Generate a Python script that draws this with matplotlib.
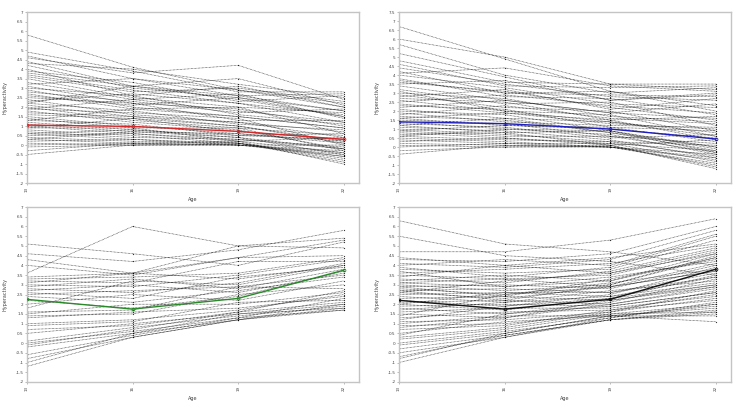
"""
Trayectorias individuales de hiperactividad por edad, con la media de cada grupo.
Cuatro paneles 2x2, lineas punteadas por sujeto y la media en color.
"""
import numpy as np
import matplotlib
matplotlib.use("Agg")
import matplotlib.pyplot as plt

ages = [13, 16, 19, 22]
age_labels = ["13", "16", "19", "22"]
ylabel = "Hyperactivity"

# --- panel 1 (arriba izq.) ---
subj_a = [
    [5.8, 4.1, 2.9, 2.2], [4.9, 3.9, 2.8, 2.8], [4.7, 3.5, 2.6, 2.7],
    [4.6, 3.8, 4.2, 2.4], [4.4, 3.1, 3.5, 2.1], [4.2, 3.0, 2.5, 1.8],
    [4.0, 2.6, 3.1, 2.0], [3.8, 3.1, 2.4, 1.5], [3.7, 2.9, 2.2, 1.2],
    [3.5, 2.5, 2.0, 1.7], [3.3, 2.4, 2.7, 1.4], [3.1, 2.2, 1.9, 1.0],
    [3.0, 2.6, 1.6, 1.1], [2.9, 2.0, 1.5, 0.9], [2.7, 1.9, 2.0, 0.6],
    [2.5, 2.2, 1.3, 1.3], [2.4, 1.6, 1.2, 0.4], [2.2, 1.8, 1.1, 0.8],
    [2.1, 1.5, 1.0, 0.2], [2.0, 1.3, 0.9, 0.5], [1.9, 1.7, 1.4, 0.0],
    [1.8, 1.2, 0.8, -0.2], [1.6, 1.4, 0.7, 0.3], [1.5, 1.0, 0.6, 0.1],
    [1.4, 0.9, 0.9, -0.3], [1.3, 1.1, 0.5, 0.6], [1.2, 0.8, 0.4, -0.5],
    [1.1, 0.7, 0.6, 0.2], [1.0, 0.6, 0.3, -0.1], [0.9, 0.9, 0.2, 0.4],
    [0.8, 0.5, 0.1, -0.6], [0.7, 0.4, 0.3, -0.2], [0.6, 0.3, 0.0, 0.0],
    [0.5, 0.6, 0.2, -0.4], [0.4, 0.2, 0.1, -0.7], [0.3, 0.1, 0.0, -0.3],
    [0.2, 0.3, 0.1, -0.8], [0.1, 0.0, 0.0, -0.5], [0.0, 0.1, 0.2, -1.0],
    [-0.1, 0.0, 0.0, -0.6], [-0.3, 0.1, 0.0, -0.4], [-0.5, 0.0, 0.1, -0.9],
    [3.6, 2.8, 3.0, 2.3], [2.8, 2.3, 1.7, 1.9], [1.7, 1.5, 1.2, 0.7],
    [3.9, 3.3, 2.3, 2.6], [2.3, 2.7, 2.2, 1.6], [0.6, 0.8, 0.5, 0.3],
    [3.2, 3.5, 2.9, 2.0], [2.6, 2.1, 2.5, 1.5], [1.9, 2.4, 1.8, 1.2],
    [1.3, 1.9, 1.5, 0.9], [0.9, 1.4, 1.0, 0.1], [0.3, 0.7, 0.4, -0.2],
    [4.3, 4.0, 3.2, 2.5], [2.2, 3.1, 2.6, 1.8],
]
mean_a = [1.05, 0.98, 0.72, 0.3]

# --- panel 2 (arriba der.) ---
subj_b = [
    [6.7, 4.9, 3.1, 2.3], [6.0, 5.0, 3.5, 3.5], [5.7, 4.0, 3.0, 3.3],
    [5.2, 3.9, 2.6, 2.9], [4.8, 3.6, 3.5, 3.2], [4.4, 3.5, 2.8, 2.6],
    [4.2, 3.0, 3.1, 2.0], [4.0, 3.3, 2.4, 2.2], [3.8, 2.8, 2.7, 1.8],
    [3.6, 3.1, 2.2, 1.5], [3.4, 2.6, 1.9, 2.4], [3.2, 2.4, 2.5, 1.2],
    [3.0, 2.7, 1.7, 1.4], [2.9, 2.2, 2.0, 0.9], [2.7, 2.5, 1.5, 1.7],
    [2.6, 2.0, 1.8, 0.6], [2.4, 1.9, 1.3, 1.0], [2.3, 2.1, 1.1, 0.3],
    [2.1, 1.6, 1.4, 0.8], [2.0, 1.8, 0.9, 0.0], [1.9, 1.4, 1.2, 1.1],
    [1.7, 1.5, 0.8, -0.2], [1.6, 1.2, 1.0, 0.5], [1.5, 1.3, 0.6, 0.2],
    [1.4, 1.0, 0.7, -0.4], [1.3, 1.1, 0.5, 0.7], [1.2, 0.8, 0.9, -0.1],
    [1.1, 0.9, 0.4, -0.6], [1.0, 0.7, 0.3, 0.1], [0.9, 0.6, 0.6, -0.3],
    [0.8, 0.5, 0.2, -0.8], [0.7, 0.8, 0.1, 0.4], [0.6, 0.4, 0.3, -0.5],
    [0.5, 0.3, 0.0, -0.9], [0.4, 0.2, 0.2, -0.2], [0.3, 0.5, 0.1, -1.1],
    [0.2, 0.1, 0.0, -0.7], [0.1, 0.0, 0.1, -1.2], [0.0, 0.2, 0.0, -0.4],
    [-0.2, 0.0, 0.0, -1.0], [-0.4, 0.1, 0.0, -0.6], [3.7, 3.0, 2.9, 2.8],
    [2.5, 2.9, 2.3, 1.9], [1.8, 2.3, 1.6, 1.3], [0.9, 1.2, 1.1, 0.9],
    [4.6, 3.4, 3.3, 3.4], [3.1, 2.0, 1.4, 0.6], [1.2, 1.6, 0.8, 0.0],
    [3.5, 3.7, 2.6, 3.0], [2.8, 3.2, 2.1, 2.7], [2.2, 2.6, 1.9, 1.6],
    [1.6, 1.9, 1.5, 0.4], [0.6, 1.0, 0.9, -0.3], [4.1, 4.4, 3.4, 3.1],
]
mean_b = [1.4, 1.3, 1.0, 0.45]

# --- panel 3 (abajo izq.) ---
subj_c = [
    [5.1, 4.6, 4.0, 5.2], [4.6, 4.2, 4.8, 5.8], [4.3, 3.6, 5.0, 5.4],
    [4.0, 3.5, 4.4, 5.3], [3.6, 6.0, 5.0, 4.9], [3.3, 3.4, 3.6, 4.4],
    [3.2, 3.1, 4.2, 4.2], [3.1, 3.6, 3.3, 4.0], [3.0, 2.9, 3.5, 4.3],
    [2.9, 3.3, 2.8, 3.8], [2.8, 2.6, 3.1, 4.1], [2.7, 3.0, 2.6, 3.6],
    [2.6, 2.3, 3.4, 3.9], [2.5, 2.7, 2.9, 3.5], [2.4, 2.1, 2.7, 3.4],
    [2.2, 1.8, 2.4, 3.7], [2.0, 2.5, 2.2, 3.2], [1.6, 1.7, 2.9, 2.8],
    [1.5, 2.0, 2.0, 2.6], [1.4, 1.5, 2.5, 3.0], [1.3, 1.6, 1.8, 2.4],
    [1.0, 1.2, 1.7, 2.5], [0.9, 1.1, 2.1, 2.2], [0.7, 0.9, 1.6, 2.7],
    [0.5, 1.0, 1.5, 2.0], [0.1, 0.8, 1.4, 1.9], [0.0, 0.6, 1.3, 2.3],
    [-0.1, 0.7, 1.6, 2.1], [-0.2, 0.5, 1.2, 1.8], [-0.6, 0.4, 1.3, 1.7],
    [-0.8, 0.3, 1.2, 2.0], [-1.0, 0.5, 1.5, 1.8], [-1.2, 0.3, 1.2, 1.7],
    [1.8, 3.2, 3.0, 4.0], [3.4, 3.6, 4.4, 4.5],
]
mean_c = [2.25, 1.75, 2.3, 3.75]

# --- panel 4 (abajo der.) ---
subj_d = [
    [6.3, 5.1, 4.7, 4.0], [5.5, 4.5, 4.2, 3.5], [4.7, 4.7, 5.3, 6.4],
    [4.3, 4.2, 4.6, 6.0], [4.1, 3.9, 4.3, 5.8], [4.0, 4.3, 4.0, 5.6],
    [3.8, 3.6, 3.8, 5.3], [3.6, 3.8, 4.1, 5.0], [3.5, 3.3, 3.5, 4.7],
    [3.3, 3.1, 3.7, 4.9], [3.2, 3.5, 3.2, 4.4], [3.1, 2.9, 3.4, 4.2],
    [3.0, 2.7, 3.0, 4.5], [2.9, 3.0, 2.8, 4.0], [2.8, 2.5, 3.1, 3.8],
    [2.7, 2.8, 2.6, 3.6], [2.6, 2.3, 2.9, 4.1], [2.5, 2.6, 2.4, 3.4],
    [2.4, 2.1, 2.7, 3.2], [2.3, 2.4, 2.2, 3.0], [2.2, 1.9, 2.5, 3.9],
    [2.1, 2.2, 2.0, 2.8], [2.0, 1.7, 2.3, 3.5], [1.9, 2.0, 1.9, 2.6],
    [1.8, 1.5, 2.1, 3.3], [1.6, 1.8, 1.8, 2.4], [1.5, 1.3, 2.0, 2.9],
    [1.3, 1.6, 1.7, 2.2], [1.1, 1.2, 1.6, 2.7], [1.0, 1.4, 1.4, 1.1],
    [0.9, 1.0, 1.5, 2.0], [0.7, 0.9, 1.7, 2.5], [0.5, 1.1, 1.4, 1.8],
    [0.3, 0.8, 1.6, 2.3], [0.2, 0.7, 1.5, 1.6], [0.0, 0.6, 1.3, 2.1],
    [-0.1, 0.5, 1.4, 1.9], [-0.3, 0.4, 1.2, 1.5], [-0.5, 0.3, 1.3, 2.0],
    [-0.7, 0.4, 1.2, 1.7], [-0.8, 0.5, 1.4, 1.4], [-1.0, 0.3, 1.2, 1.6],
    [3.4, 4.0, 4.4, 5.1], [2.6, 3.2, 3.6, 4.6], [1.4, 2.5, 2.9, 3.7],
    [3.9, 3.4, 3.9, 5.5], [2.9, 2.4, 3.3, 4.3], [1.7, 2.1, 2.4, 3.1],
    [0.8, 1.3, 2.2, 2.9], [4.4, 4.0, 3.6, 4.8], [3.1, 3.3, 2.9, 3.7],
    [2.7, 2.2, 3.0, 4.4], [2.0, 2.6, 2.6, 3.4], [1.2, 1.9, 2.3, 3.0],
    [0.4, 1.5, 1.9, 2.6], [3.7, 2.9, 3.2, 4.6],
]
mean_d = [2.2, 1.75, 2.25, 3.8]

paneles = [
    (subj_a, mean_a, "#d62728", (-2, 7), [0.0365, 0.547, 0.449, 0.423]),
    (subj_b, mean_b, "#1f1fbf", (-2, 7.5), [0.540, 0.547, 0.449, 0.423]),
    (subj_c, mean_c, "#2a8a2a", (-2, 7), [0.0365, 0.0545, 0.449, 0.433]),
    (subj_d, mean_d, "#111111", (-2, 7), [0.540, 0.0545, 0.449, 0.433]),
]

fig = plt.figure(figsize=(7.39, 4.04), dpi=100)

for sujetos, media, color, ylim, rect in paneles:
    ax = fig.add_axes(rect)
    for fila in sujetos:
        ax.plot(ages, fila, color="black", lw=0.5, ls=(0, (1, 1)),
                alpha=0.8, marker=".", ms=1.8, mew=0)
    ax.plot(ages, media, color=color, lw=1.0, marker="o", ms=2.0,
            mfc="none", mew=0.6, zorder=5)

    ax.set_xlim(ages[0], ages[-1] + 0.43)
    ax.set_ylim(*ylim)
    ax.set_xticks(ages)
    ax.set_xticklabels(age_labels, rotation=90, fontsize=3)
    yt = np.arange(ylim[0], ylim[1] + 0.01, 0.5)
    ax.set_yticks(yt)
    ax.set_yticklabels([f"{v:g}" for v in yt], fontsize=3)
    ax.tick_params(length=1.5, width=0.4, color="#888888", pad=1,
                   labelcolor="#444444")
    for sp in ax.spines.values():
        sp.set_color("#c4c4c4")
        sp.set_linewidth(1.0)
    ax.set_xlabel("Age", fontsize=3.5, color="#444444", labelpad=4)
    ax.set_ylabel(ylabel, fontsize=3.5, color="#444444", labelpad=6)

fig.savefig("out.png", dpi=100)
